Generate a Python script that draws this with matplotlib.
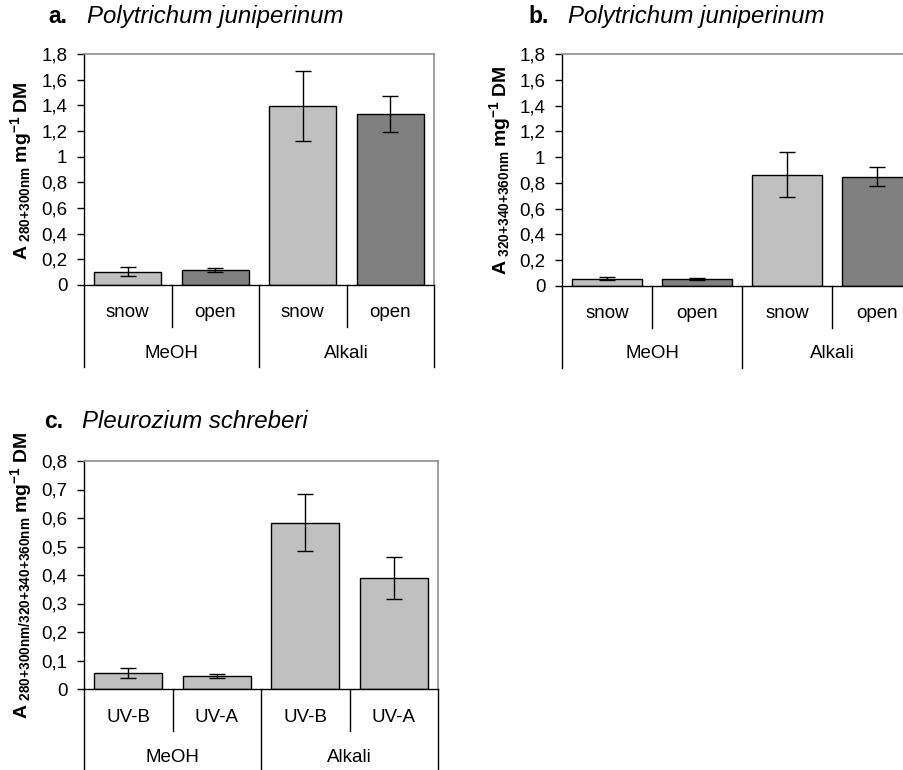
import matplotlib
matplotlib.use("Agg")
import matplotlib.pyplot as plt
import numpy as np

plt.rcParams['font.family'] = ['Liberation Sans', 'DejaVu Sans']
plt.rcParams['mathtext.fontset'] = 'custom'
plt.rcParams['mathtext.rm'] = 'Liberation Sans'
plt.rcParams['mathtext.bf'] = 'Liberation Sans:bold'
plt.rcParams['mathtext.it'] = 'Liberation Sans:italic'

# data
groups = ['MeOH', 'Alkali']
conds_ab = ['snow', 'open']
conds_c = ['UV-B', 'UV-A']

a_means = [0.105, 0.117, 1.395, 1.335]
a_err = [0.032, 0.017, 0.272, 0.14]
b_means = [0.056, 0.055, 0.862, 0.849]
b_err = [0.010, 0.007, 0.175, 0.076]
c_means = [0.056, 0.047, 0.584, 0.389]
c_err = [0.017, 0.007, 0.100, 0.074]

light = '#C0C0C0'
dark = '#808080'

W, H = 904, 770
fig = plt.figure(figsize=(W / 100, H / 100), dpi=100)


def px_axes(l, r, t, b):
    return fig.add_axes([l / W, 1 - b / H, (r - l) / W, (b - t) / H])


def fmt(v):
    s = ('%.1f' % v).rstrip('0').rstrip('.')
    return s.replace('.', ',')


def draw_panel(ax, means, errs, colors, conds, ymax, step, h_px, bottom_px):
    x = np.arange(len(means))
    ax.bar(x, means, width=0.77, color=colors, edgecolor='black', linewidth=1.0, zorder=2)
    ax.errorbar(x, means, yerr=errs, fmt='none', ecolor='black', elinewidth=1.0,
                capsize=5.5, capthick=1.0, zorder=3)
    ax.set_xlim(-0.5, len(means) - 0.5)
    ax.set_ylim(0, ymax)
    ticks = np.arange(0, ymax + step / 2, step)
    ax.set_yticks(ticks)
    ax.set_yticklabels([fmt(t) for t in ticks])
    ax.tick_params(axis='y', direction='out', length=5, width=1, pad=7, labelsize=13.5)
    ax.set_xticks([])
    for s in ['top', 'right']:
        ax.spines[s].set_color('#8c8c8c')
        ax.spines[s].set_linewidth(1.2)
    for s in ['left', 'bottom']:
        ax.spines[s].set_color('black')
        ax.spines[s].set_linewidth(1.0)

    tr = ax.get_xaxis_transform()
    # multi level category axis
    inner_lab = -28 / h_px
    group_lab = -68 / h_px
    inner_sep = -42 / h_px
    outer_sep = -bottom_px / h_px
    labels = conds * len(groups)
    for i, lab in enumerate(labels):
        ax.text(i, inner_lab, lab, transform=tr, ha='center', va='center', fontsize=13.5)
    for g, name in enumerate(groups):
        ax.text(2 * g + 0.5, group_lab, name, transform=tr, ha='center', va='center', fontsize=13.5)
    for xs in [0.5, 2.5]:
        ax.plot([xs, xs], [0, inner_sep], transform=tr, color='black', lw=1.0, clip_on=False)
    for xs in [-0.5, 1.5, 3.5]:
        ax.plot([xs, xs], [0, outer_sep], transform=tr, color='black', lw=1.0, clip_on=False)


# panel a
ax_a = px_axes(84, 434, 54, 285)
draw_panel(ax_a, a_means, a_err, [light, dark, light, dark], conds_ab, 1.8, 0.2, 231, 82)

# panel b (runs past the right edge like the original)
ax_b = px_axes(562, 922, 54, 286)
draw_panel(ax_b, b_means, b_err, [light, dark, light, dark], conds_ab, 1.8, 0.2, 232, 82)

# panel c
ax_c = px_axes(84, 438, 461, 689)
draw_panel(ax_c, c_means, c_err, [light] * 4, conds_c, 0.8, 0.1, 228, 90)

# titles
def title(x_lab, x_txt, y, lab, txt):
    fig.text(x_lab / W, 1 - y / H, lab, fontsize=16.5, fontweight='bold', va='baseline')
    fig.text(x_txt / W, 1 - y / H, txt, fontsize=17.3, style='italic', va='baseline')

title(48, 87, 23, 'a.', 'Polytrichum juniperinum')
title(528, 568, 23, 'b.', 'Polytrichum juniperinum')
title(44, 82, 428, 'c.', 'Pleurozium schreberi')

# y labels
def ylab(x, y, sub):
    sub = sub.replace('+', '{+}').replace('/', '{/}')
    s = r'$\mathbf{A}\;{}_{\mathbf{' + sub + r'}}\;\mathbf{mg}^{\mathbf{-1}}\;\mathbf{DM}$'
    fig.text(x / W, 1 - y / H, s, rotation=90, ha='center', va='center', fontsize=14)

ylab(21, 171, '280+300nm')
ylab(500, 170, '320+340+360nm')
ylab(21, 575, '280+300nm/320+340+360nm')

fig.savefig('out.png', dpi=100)
